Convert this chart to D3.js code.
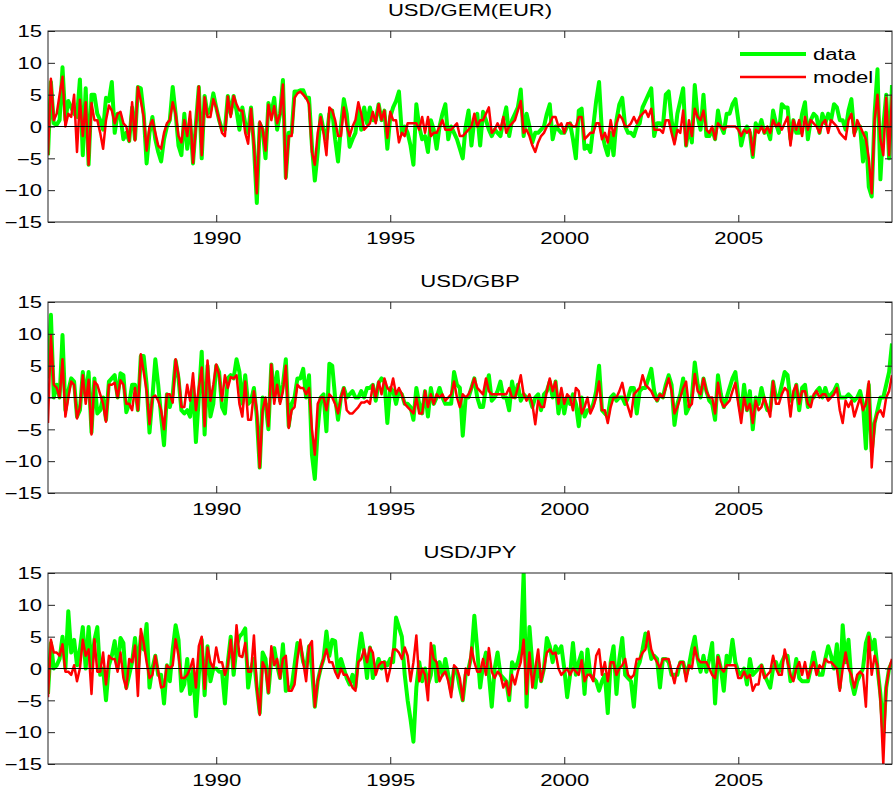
<!DOCTYPE html>
<html>
<head>
<meta charset="utf-8">
<script src="https://cdn.jsdelivr.net/npm/d3@7"></script>
<style>
  body { margin: 0; background: #fff; }
  text { font-family: "Liberation Sans", Arial, sans-serif; fill: #000; }
</style>
</head>
<body>
<svg width="893" height="792"></svg>
<script>
// monthly changes, first month is March 1985
const startYear = 1985 + 2 / 12;
const titles = ["USD/GEM(EUR)", "USD/GBP", "USD/JPY"];
const xTicks = [1990, 1995, 2000, 2005];
const yTicks = [-15, -10, -5, 0, 5, 10, 15];
const legendLabels = ["data", "model"];

const eurData = [
  -4.5, 7, 0.5, 0.3, 1, 9.3, 1, 4, 3, 2,
  1.5, 7.4, -4.5, 6, -6, 5, 5, 2, 1, -0.5,
  4.5, 4, 7, -1, 2, 1.5, -2, -1, -2.3, 3,
  -2, 6.2, 6, 2, -5.8, -1, 1.5, -2, -4, -5.5,
  -2, 0, 1, 6.2, 2, -3, -4.5, 2, -3.5, 1,
  -5.8, 0.5, 6.2, -5, 4.8, 2, 2.5, 5.2, 3, 1,
  -0.5, -0.5, 4.8, 2, 4.8, 2.5, -0.5, 3, 0.5, -1,
  3, -3, -12, 0.5, -0.5, -5, 3.7, 2, 4.5, -0.5,
  2, 7.3, -8, -1, -1, 5.5, 5.5,
  5.7, 5.7, 4.5, 4.5, -3, -8.5, -4, 1.8, -0.5, -2,
  2, 2.5, -2, -5.5, 0, 4.3, 2, -3.2, -2, -1,
  2.5, -0.5, 3, 0.5, 3, 1, 1, 3.5, 1, 2.5,
  -3.5, 1.5, 3, 4, 5.5, -1, 0, -1, -3, -6,
  3.5, 0, -2, -1.5, -4, 1, -0.5, -3.5, 0, 2,
  3.5, -2, 0, -1, -2, -3.5, -5, 0, 2.5, -3,
  1, 2, -3, 2.3, 1, -0.5, -1.5, -0.5, -1, -1.5,
  1, 3, -1.5, 1, 2, 3, 5.8, -1.5, 2, 0,
  -2.5, -1, -1, -0.5, 0, 2, 3.5, -2, 0, -0.5,
  -1, -1, 0, 0.5, -2, -5, 2.5, 2.8, -3.5, -3,
  -4, 0, 4, 7, -1, -3, -4.5, -1, -4.5, 1,
  3.5, 4.5, 0, -1, -1, -1.5, 0, 0.5, 3, 4,
  5, 6, -1.5, 0.5, 0.5, 0, 5, 5.5, 1, -2,
  2, 4, 6, -3, 0, -2.5, 6.5, 1.5, -0.5, 5,
  -1.5, -1.5, -0.5, -2, 2.5, 0, -1, 2, 2, 3.5,
  4.3, 1, -3, -1, 0, -1, -4.8, 0.5, -0.5, 1,
  -1, -0.5, -2, 2.5, 0.5, -1, 3.5, 3, 3, -2,
  1, -1, -1, 2, 3.8, -2, 1, 2, 1.5, -1,
  2, 0.5, 2, 1, 3.5, 3, 1, 1, -0.5, 2.5,
  4.3, -1, 0, 0, -5.5, -1, -9.5, -11, 2, 9,
  -8.3, 0, 5, -5, 6.5
];
const eurModel = [
  -4.5, 7.5, 1, 2, 5, 7.8, 0, 2, 1.5, 5,
  -4, 4.2, -1.5, 3.8, -6, 3.7, 1, 1, -1, -3.5,
  1, 3.3, 2.5, 0.5, 2, 2.3, 0.5, 0, -2.3, 3.8,
  -2.2, 6.2, 4, 1.5, -3.8, 0, 1, -1, -3, -3.5,
  -1, 0.5, 1, 3.8, 2, -1.5, -2.5, 1, -1.5, 2.3,
  -5.7, 0, 6.3, -4.5, 4.6, 1.5, 1.5, 4.3, 3, 1,
  -1, -1.5, 4.7, 1.5, 4.8, 3.5, 2.5, 2.5, -1, -2.7,
  2.8, -3, -10.5, 0.8, -0.5, -3.8, 3.4, 1, 3.2, 0.5,
  2, 6.6, -8.2, -1.5, -1.5, 4.5, 5.2,
  5.5, 5, 4.5, 3.5, -4, -6, -1, 1.5, -1, -4.5,
  3, 2.5, 1, -1.5, -1.5, 3, 0, -1.5, 0, 1,
  3.8, 2, -0.5, 0, 0.5, 2.3, 0.5, 3.5, 1, 2.5,
  -1.8, 2.3, 1, 1, -2.5, -1, -1.5, 0.5, 0.5, 0.5,
  0.5, -0.5, 1.5, -1, 1.5, -1.5, -1, -1, 0, 1,
  -0.5, -0.5, -0.5, 0, 0.5, -1.5, -1.5, -1, -0.5, 0,
  2, 0, 1, 1, 2, 3, -1, -0.5, 0.5, -0.5,
  1.5, -1, 0, 0.5, 1, 2.5, 4, -1, -0.5, -1.5,
  -3, -4, -2.5, -1.5, -1, 0, 0.5, 1.5, 1.5, 0,
  0.5, -1, 0.5, 0.5, 0, 0, 1.5, 1.5, -2, -1.5,
  -1, -1, 0.5, 0.5, -2, -1, -2.5, 1, -1.5, 0.5,
  1.8, 1.2, 0, 0, 0.5, 1.5, 0.5, 1.5, 2, 2.5,
  1.5, 2.8, -0.5, -0.5, -0.5, -1, 1, 1, -1, -2.8,
  -0.5, -1, 2.5, -3, 1, -1.5, 2.8, 1.5, 1, 2.5,
  -0.5, -1, 0, -2, 0.5, 0, -0.5, 0, 0, 0,
  0, -0.5, -1.5, -0.5, -1, -0.5, -4.5, -0.5, -1, 0,
  -1, 0, -1, 1, 0, 0.5, -0.5, 0.5, 1.5, -3,
  1, -0.5, 1, -1.5, 1.5, -0.5, 1, 0.5, 0, -1,
  0.5, 1, -1, 1, 0.5, 0, -1, -1.5, -2, 1,
  2, -1.5, 1, 0, -1, -2, -5, -10.5, 1, 5,
  -2, -4.5, 4.5, -4.5, 5
];

const gbpData = [
  3, 13, 0, 2, 0, 9.8, -2, 1, 3, 2.5,
  -3, -2, 4, 0, 4, -5.5, 3, -2.5, -2, 0,
  -3.5, 2.5, 3, 3.5, 0, 3.8, 3.5, -2.3, -1, 2,
  2, -2, 6.5, 6.5, 2, -5.5, 0, 6, 2, -3,
  -7.5, 0.5, -1.5, 0.5, 5.8, 3, -2, -2.5, -2, -3,
  2, -7, 0, 7.2, -5.8, 5, -3, -1, 5, 4,
  -1.5, -2.5, 3, 3.5, 3, 6, 4, -1, 3.5, -1,
  -0.5, 1.5, -3, -11, 0, -1, -5, 5.2, 0, 4,
  -0.5, 2, 6, -4.5, -1, 0, 3,
  3, 4.5, 0, 3.5, -9, -12.8, -5, 0, 0.5, -5.3,
  5.3, 5, 0, -3.5, 0, 1.5, 0, 0.5, 1, 0,
  0, 1, 0, 1.5, 1.5, 2, -0.5, 2.3, 3, 2.5,
  -4, 1.5, 1, -1, 1, 0.5, -1, -1, -1.5, -3.5,
  1.5, -1, -2.5, 1, -3, 1.5, -1, 0, 1.5, 0,
  -1, -1, -1, 4, 2, 1.5, -6, 0, 0, 1.5,
  3, 0, -1.5, -1.5, 1.5, 3.5, -0.5, 0, 1, 2.5,
  0, 0, -2, 2.5, 0, 2, -0.5, 0.5, 0, 0,
  -1.5, 0, 0.5, -2, 0.5, 1, 2.5, 0, 2.5, -2.5,
  0.5, -2.5, 0, -1, 0.5, -1, -4.5, 0, -3, -2,
  -2, -1, 1, 5, -2, -2.5, -3, 0, 0.5, -0.5,
  0, 0, -1, 0, 1.5, 1.5, -2.5, 1, 1.5, 1.5,
  3, 4.5, 1, -0.5, 0.5, 0, 2, 3.5, 2, -4.3,
  -1, 0.5, 3, -2.5, -1.5, 0, 5.5, 2, 0, 3,
  1, -0.5, -1, -3.5, 3.5, 0.5, -1.5, 0, 1.5, 3,
  4, 0, -2.5, 2, -2, 1, -5, 0, -1, 1.5,
  -0.5, -2, -2, 2.5, 0, 0, 2, 4, 3.5, -0.5,
  0, 2, -2, 1.5, 2, -1.5, 0, 0, 1, 1.5,
  0, 1.5, 0, 0.5, 1, 2, 0, 0, 0, 0.5,
  0, -0.5, 0, 1, -1, -8, 2, -8.5, -4, -2,
  0, 0, 2, 4, 8.5
];
const gbpModel = [
  -4, 9.8, 2, 1.5, 0, 6, -3, 0, 2.5, 2,
  -3.3, -1.5, 3.5, -1, 2.8, -5.8, 2.5, 2, 0.5, -1,
  -3.8, 2, 2, 2.3, 0, 2.7, 2, -1, -1, -2,
  1.5, -2, 6.8, 4, 1, -4.2, 0, 0.3, -0.5, -2,
  -5, 0.5, 0.5, -0.8, 6, 3.5, -1.5, -1.5, 2, -0.5,
  3.8, -2, 1.5, 4.7, -4.5, 5.8, -0.5, 2, 5.2, 3.5,
  -0.5, 3.5, 1.5, 3.2, 3, 3.5, -1, -3, 2.5, -3.5,
  -3.5, 1, -2, -11, -2, 0, -4.5, 5.2, -1, 2,
  -1, 1, 5, -4.8, -2, -1.5, 2,
  1.5, 1.5, 0.5, 1.5, -5, -9, -1, 0, 0, -2,
  0.5, 0, -1, -2.5, 0, 1.5, -2, -2.5, -2.5, -2,
  -1.5, -0.8, -0.8, -0.5, -1, 2, 0, 2.5, 0.5, 3,
  1.5, 1, 3, 0.5, 1.5, 0.5, -1, -1.5, -2, -2.5,
  0, -2.5, -2.5, 1, -1.5, 0.5, -1, 0.5, 0, 0.5,
  -0.5, 0, 0.5, 2.5, 0, -1.5, 0.5, 0, 0.5, 1.5,
  3, 1.5, 1, 0.5, 3, 1, 0.5, 0.5, 0.5, 0.5,
  0.5, 0.5, 1.5, 0, 0, 1.5, 3.5, 0.5, -0.5, 0.5,
  -1, -4.2, -0.5, -1.5, -1.5, 1, 3, 1, 2.5, -1,
  1.5, -1, 0.5, 0, -2, 1.5, 1, -2.5, -1.5, 0,
  -2.5, -1.5, 0, 2.5, -2, -2, -4, -1.5, 0, 0,
  1, 2.3, 0, -1.5, -3, 0.5, 1, 1.5, 3.5, 2,
  1.5, 1, 0, -0.5, 0.5, 0, 1.5, 3, 1, -2.5,
  -1.5, 0, 1.5, 2.5, -1.5, -1, 3.7, 1, 0.5, 3,
  1, 0, 0, -2.5, 2.3, -0.5, -1.5, -1, -0.5, 1,
  2.3, -1, -4, 0, -2, -1, -4, -0.5, -2, -1.5,
  0, -1.5, -3, 2.5, -1, -1, 0.5, 1.5, 1, -3,
  1, 2, -1, 1, 1, -1, -1.5, 0.5, 1, 0,
  0.5, 0.5, -0.5, 0, 0.5, 1.5, -2, -4, -0.5, -1.5,
  -0.5, -3, -1.5, 0, -2, -1, 2.5, -11, -4, -2.5,
  -2, -3, 0, 1, 3.5
];

const jpyData = [
  -4, 4, 0, 0.5, 1.5, 5, 0, 9, 2.5, 4.5,
  0.5, 3, 6.5, 0, 6.5, 0, 4.5, 6.5, -1, 0,
  -5, 0.5, 2, 4.3, 0, 4.8, 4, -3, -1, 1,
  4.8, 0, 5, 3, 7, -3, 0, 2, -1, -1,
  -5.5, 0.5, -2, 3, 6.8, 4.5, -3.5, -2.5, 1.5, -4,
  0, -7.5, -1, 4.5, -4.2, 3.5, -2, 0, 0, -0.5,
  -0.5, -5.5, 1, 5, -1, 3.5, 5, 5.5, 6.3, -3,
  0, 1.5, -3, -7, 2.5, 1.5, -3.8, 1.5, 3.2, 0.5,
  -1.5, 3.8, -3.5, -3, -3, 0.5, 4,
  3.5, 1, 0, 3.5, 0, -6, -2, 0, 1.5, 5.8,
  2, 4.5, 4.3, -1, 1.5, 0, -1.5, -2.5, -1, -3,
  2, 5.5, 2.5, -1.5, 3.3, -1.5, 0, 1.5, 0, 1,
  0.5, 1.5, 1, 8, 6.5, 5, -1, -5, -8, -11.5,
  -3, 1, -2, 0, -2.5, -1, 3.5, -2, 1, -1,
  1.5, -1, -3.5, 0, -0.5, -3, -5, -1, 0, 2,
  8.3, 3, -3, 0.5, 2.5, -1, -6, 0, 2.5, -1,
  -1.5, -2, -5, 1, 0, 1, 3, 15, -6, 6.5,
  0.5, -3, 1, -2, 0, 4.8, 3.5, 1, 3.5, 2.5,
  3.5, 0, -4.5, -1, 4, -1, 1, 2.5, -4, 3,
  -1, -1.5, -2, -3.5, -2, -1, -7, 1, 3.5, -4,
  1.5, 4.8, -1, -1.5, -2, -6, 0, 1, 3, 5.5,
  4, 1.5, 2, 1.5, -3, 1.5, 1.5, 1, -1, -1,
  -1, 1, 1, -1, 0.5, 3, 5, 1.5, -0.5, 2,
  -0.5, 1.5, 4, -5.5, 2, 0, -3.5, 2, 1, 4.5,
  1, -0.5, -1, 0, -2.5, 1.5, -1, -0.5, 0, 0.5,
  -1, -2, -3, 0, 1, -0.5, 1, 2, 2, -2,
  -1.5, 1.5, -1.5, -2, -2, -2, 0, 2.5, 0, -1,
  -1, 1.5, 3.5, 2, 0, 3.8, -3, 6.8, 1, 4.5,
  -2, -4, -2, -1, 0, 4, 5.5, 3, 4.5, 0,
  -4, -10, -3, 0, 1
];
const jpyModel = [
  -4.5, 4.5, 2.5, 2.5, 2, 3.8, -0.5, -0.5, -1, 0.5,
  -2, 0, 4.5, 2, 3, -4, 4.6, -0.5, -0.5, 2.5,
  -2.5, 2, 1.5, 1.5, -0.5, 2.5, -1.5, -3.2, 1.5, 1,
  3.6, -4.3, 6.2, 4, 1, -1.5, -1, 2, -0.5, -3,
  -2.8, 0.5, 0, 0.5, 4.6, 2, -1.5, -1.5, -1, 0,
  1.5, -3, 3.5, 5, -3.2, 3.3, 1, 0, 3.3, 1,
  1, -1, 0.5, 4.5, 0, 6.8, 2, 1.8, 4, -0.5,
  -0.5, 5.2, -3, -7.3, 1, 0, -3.8, 3.5, 0.5, 1.5,
  -1.5, 1.5, 2, -3.5, -3.5, -2.5, 1.5,
  4.5, 1, -2, 3.5, 4.3, -6, -2, 0, 1.5, 3,
  1, 1, -0.5, -1.5, 0, -1, -1, -2, -3, -3.5,
  1, 1.5, 3, 1, 3.3, 2.5, -1, 0.5, 1, 1,
  -2, 0, 3, 3, 2.5, 1.5, 3.3, 2, -2, 1,
  5.2, -2, 0, -1, -5, 4, 1.5, 1, -2, -1,
  -0.5, -2, -4.5, 0.5, 0, -1.5, -5, 0, -1, 3.3,
  1, -0.5, -0.5, 1.5, -1, 3.2, -0.5, -1.5, -0.5, -1,
  -3, -2, -4.2, -1, -2.5, -0.5, 1, 4.5, -4, 2.5,
  -3, 0, 3, -2, 0, 2.5, 3, 2.3, 2.5, 0,
  -1, -0.5, 0, -1, 0, -0.5, -1, 1.3, -2, -1,
  -1, -2, 2, 3, -1, 1, -2, 1, 1, -1,
  0, 0.5, 1.5, -1, -1.5, -1, 1.5, 1.5, 2.5, 3,
  5.8, 3, 1.8, 1, 0, 1.5, 1.5, 1.5, -0.5, -2.3,
  0, 1, 1, -2, 0.5, 0, 3.3, 1.5, 1, 1,
  1, 0, -1, -1.5, 1.8, 0, -0.5, 0.5, 0.5, 0.5,
  0.5, -1.5, -1.5, -0.5, -1.5, -1, -3.5, -2.5, -2.5, 0.5,
  -1.5, -1, -0.5, 2, 0, -1, -1, 3, 1, -1,
  -2, 0, 1, -1, 1, -1.5, 0, 1, -1, 0.5,
  0, 1.5, 1, 1, 0.5, 0, -3.5, 0, 2.5, 0,
  -1, -3, -1, -0.5, -1, -6, 5, -1, 2, 0.5,
  -5, -15, -3, 0, 1.5
];

const panels = [
  { title: titles[0], data: eurData, model: eurModel },
  { title: titles[1], data: gbpData, model: gbpModel },
  { title: titles[2], data: jpyData, model: jpyModel }
];

const svg = d3.select("svg");
const left = 48, right = 892;
const tops = [31, 302, 573];
const plotHeight = 191;
const stretch = 1.38; // text in the picture is wider than normal Arial
const fontSize = 16;

const x = d3.scaleLinear()
  .domain([startYear, startYear + (eurData.length - 1) / 12])
  .range([left, right]);

const toPoints = arr => arr.map((v, i) => ({ t: startYear + i / 12, v }));

panels.forEach((p, k) => {
  const top = tops[k];
  const y = d3.scaleLinear().domain([-15, 15]).range([top + plotHeight, top]);
  const line = d3.line().x(d => x(d.t)).y(d => y(d.v));

  const g = svg.append("g");

  g.append("clipPath").attr("id", "clip" + k)
    .append("rect")
    .attr("x", left).attr("y", top)
    .attr("width", right - left).attr("height", plotHeight);

  const plot = g.append("g").attr("clip-path", `url(#clip${k})`);

  plot.append("path")
    .datum(toPoints(p.data))
    .attr("fill", "none")
    .attr("stroke", "#00ff00")
    .attr("stroke-width", 4)
    .attr("stroke-linejoin", "round")
    .attr("d", line);

  plot.append("path")
    .datum(toPoints(p.model))
    .attr("fill", "none")
    .attr("stroke", "#ff0000")
    .attr("stroke-width", 2.5)
    .attr("stroke-linejoin", "round")
    .attr("d", line);

  // zero line
  plot.append("line")
    .attr("x1", left).attr("x2", right)
    .attr("y1", y(0)).attr("y2", y(0))
    .attr("stroke", "#000")
    .attr("stroke-width", 1);

  // inward ticks on all four sides
  const bottom = g.append("g")
    .attr("transform", `translate(0,${top + plotHeight})`)
    .call(d3.axisBottom(x).tickValues(xTicks).tickSize(-7).tickFormat(d3.format("d")));
  bottom.selectAll("text")
    .attr("y", 22).attr("dy", null)
    .attr("transform", `scale(${stretch},1)`);

  g.append("g")
    .attr("transform", `translate(0,${top})`)
    .call(d3.axisTop(x).tickValues(xTicks).tickSize(-7).tickFormat(""));

  const leftAxis = g.append("g")
    .attr("transform", `translate(${left},0)`)
    .call(d3.axisLeft(y).tickValues(yTicks).tickSize(-7));
  leftAxis.selectAll("text")
    .attr("x", 0).attr("dy", "0.36em")
    .attr("transform", `translate(-6,0) scale(${stretch},1)`);

  g.append("g")
    .attr("transform", `translate(${right},0)`)
    .call(d3.axisRight(y).tickValues(yTicks).tickSize(-7).tickFormat(""));

  g.selectAll(".domain").remove();
  g.selectAll(".tick line").attr("stroke", "#222");
  g.selectAll(".tick text")
    .attr("font-size", fontSize)
    .attr("font-family", '"Liberation Sans", Arial, sans-serif')
    .attr("fill", "#000");

  g.append("rect")
    .attr("x", left).attr("y", top)
    .attr("width", right - left).attr("height", plotHeight)
    .attr("fill", "none")
    .attr("stroke", "#222")
    .attr("stroke-width", 1);

  g.append("text")
    .attr("transform", `translate(${(left + right) / 2},${top - 15}) scale(${stretch},1)`)
    .attr("text-anchor", "middle")
    .attr("font-size", fontSize)
    .text(p.title);
});

// legend in the first panel
const legend = svg.append("g");
const legendStyles = [
  { color: "#00ff00", width: 4, y: 54 },
  { color: "#ff0000", width: 2.5, y: 77 }
];
legendLabels.forEach((label, i) => {
  const s = legendStyles[i];
  legend.append("line")
    .attr("x1", 740).attr("x2", 806)
    .attr("y1", s.y).attr("y2", s.y)
    .attr("stroke", s.color)
    .attr("stroke-width", s.width);
  legend.append("text")
    .attr("transform", `translate(813,${s.y}) scale(${stretch},1)`)
    .attr("dy", "0.36em")
    .attr("font-size", fontSize)
    .text(label);
});
</script>
</body>
</html>
